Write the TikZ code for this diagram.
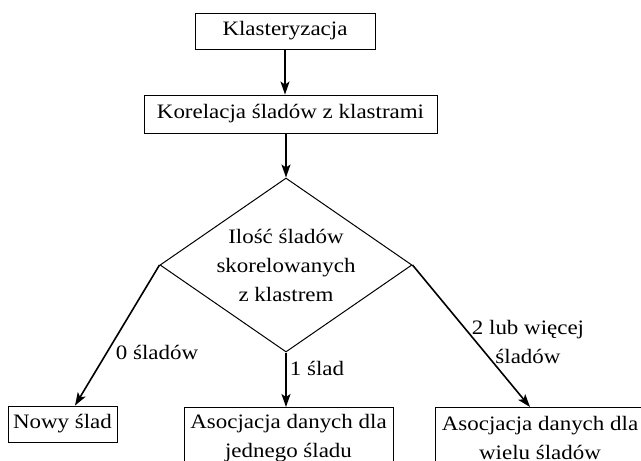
\documentclass[tikz,border=0pt]{standalone}
\usepackage{fontspec}
\setmainfont{Liberation Serif}[FakeStretch=1.12]
\usetikzlibrary{shapes.geometric,arrows.meta}
\begin{document}
\begin{tikzpicture}[x=1pt,y=-1pt,
  txt/.style={font=\fontsize{20.5}{29}\selectfont, align=center, inner sep=0pt},
  box/.style={txt, draw, line width=0.9pt},
  arr/.style={line width=1.6pt, -{Stealth[length=13pt,width=9pt,inset=3pt]}}]
\useasboundingbox (0,0) rectangle (641,461);
\clip (0,0) rectangle (641,461);
\node[box, minimum width=180pt, minimum height=36pt] (k1) at (285,31) {Klasteryzacja};
\node[box, minimum width=293pt, minimum height=38pt] (k2) at (290.5,114) {Korelacja śladów z klastrami};
\node[draw, diamond, line width=1pt, minimum width=252pt, minimum height=174pt, inner sep=0pt] (d) at (286,265) {};
\node[txt] (dt) at (286,265) {Ilość śladów\\skorelowanych\\z klastrem};
\node[box, minimum width=109pt, minimum height=36pt] (n0) at (62.5,424) {Nowy ślad};
\node[box, minimum width=209pt, minimum height=62pt, anchor=north] (n1) at (288.5,407) {Asocjacja danych dla\\jednego śladu};
\node[box, minimum width=210pt, minimum height=62pt, anchor=north] (n2) at (540,407) {Asocjacja danych dla\\wielu śladów};
\draw[arr] (k1.south) -- (k1.south |- k2.north);
\draw[arr] (k2.south -| d.north) -- (d.north);
\draw[arr] (d.west) -- ([xshift=12.5pt]n0.north);
\draw[arr] (d.south) -- (d.south |- n1.north);
\draw[arr] (d.east) -- ([xshift=-10pt]n2.north);
\node[txt] (l0) at (157,352) {0 śladów};
\node[txt] (l1) at (317,368) {1 ślad};
\node[txt] (l2) at (528,342) {2 lub więcej\\śladów};
\end{tikzpicture}
\end{document}
